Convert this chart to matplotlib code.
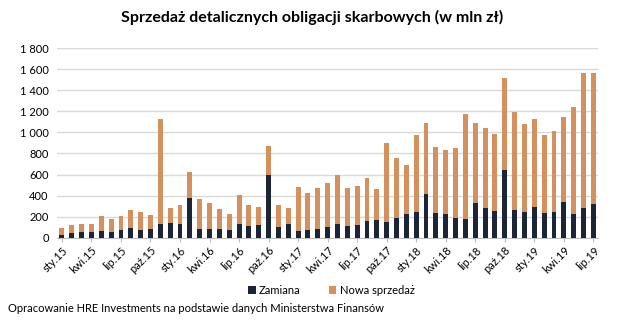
import numpy as np
import matplotlib
matplotlib.use('Agg')
import matplotlib.pyplot as plt

plt.rcParams['font.family'] = ['Lato', 'DejaVu Sans']

# month labels, every third month shown
tick_labels = ['sty.15', 'kwi.15', 'lip.15', 'paź.15',
               'sty.16', 'kwi.16', 'lip.16', 'paź.16',
               'sty.17', 'kwi.17', 'lip.17', 'paź.17',
               'sty.18', 'kwi.18', 'lip.18', 'paź.18',
               'sty.19', 'kwi.19', 'lip.19']

# total sales (mln zł), Jan 2015 - Jul 2019
total = [92, 120, 127, 127, 203, 177, 206, 263, 244, 215,
         1128, 279, 314, 621, 364, 330, 272, 222, 409, 311,
         295, 872, 314, 282, 485, 422, 475, 517, 596, 469,
         491, 567, 463, 900, 757, 691, 976, 1087, 859, 834,
         849, 1173, 1090, 1040, 983, 1515, 1192, 1078, 1125, 976,
         1011, 1144, 1242, 1566, 1566]
# exchange (Zamiana)
zamiana = [25, 48, 54, 54, 63, 57, 70, 92, 70, 86,
           127, 139, 127, 377, 86, 82, 79, 70, 130, 114,
           124, 599, 98, 130, 63, 76, 86, 105, 130, 111,
           124, 162, 171, 146, 190, 222, 247, 412, 235, 228,
           190, 181, 333, 279, 257, 643, 260, 247, 292, 235,
           244, 336, 225, 282, 323]

zamiana = np.array(zamiana)
nowa = np.array(total) - zamiana
x = np.arange(len(zamiana))

dark = '#1c2438'
orange = '#d4915e'

fig = plt.figure(figsize=(6.25, 3.26), dpi=100)
ax = fig.add_axes([0.0912, 0.271, 0.866, 0.581])

ax.bar(x, zamiana, width=0.5, color=dark, label='Zamiana', zorder=3)
ax.bar(x, nowa, width=0.5, bottom=zamiana, color=orange, label='Nowa sprzedaż', zorder=3)

ax.set_xlim(-0.5, len(x) - 0.5)
ax.set_ylim(0, 1800)
yt = np.arange(0, 1801, 200)
ax.set_yticks(yt)
ax.set_yticklabels([f'{v:,}'.replace(',', ' ') for v in yt], fontsize=8)
ax.yaxis.grid(True, color='#d9d9d9', linewidth=1, zorder=0)
ax.tick_params(axis='y', length=0, pad=6)

ax.set_xticks(x[::3])
ax.set_xticklabels(tick_labels, rotation=45, ha='right', rotation_mode='anchor', fontsize=8)
ax.tick_params(axis='x', length=3, color='#bfbfbf', pad=2)

for s in ['top', 'right', 'left']:
    ax.spines[s].set_visible(False)
ax.spines['bottom'].set_color('#bfbfbf')

fig.text(0.5, 0.945, 'Sprzedaż detalicznych obligacji skarbowych (w mln zł)',
         ha='center', va='center', fontsize=11.5, fontweight='bold')

fig.legend(loc='center', bbox_to_anchor=(0.53, 0.11), ncol=2, frameon=False,
           fontsize=8, handlelength=0.7, handleheight=0.7, columnspacing=2.5, handletextpad=0.3)

fig.text(0.013, 0.055, 'Opracowanie HRE Investments na podstawie danych Ministerstwa Finansów',
         ha='left', va='center', fontsize=8)

fig.savefig('out.png', dpi=100)
